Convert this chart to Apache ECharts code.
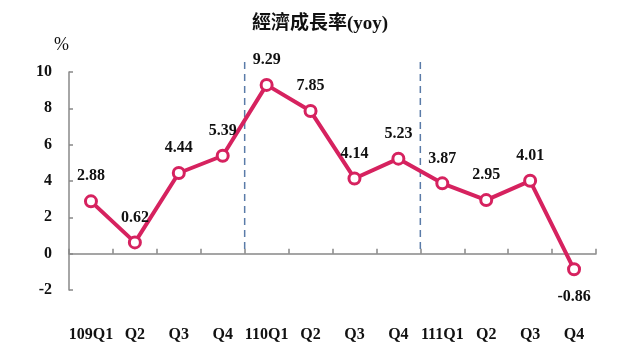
<!DOCTYPE html>
<html>
<head>
<meta charset="utf-8">
<script src="https://cdn.jsdelivr.net/npm/echarts@6/dist/echarts.min.js"></script>
<style>html,body{margin:0;padding:0;background:#fff;}#c{width:640px;height:360px;}</style>
</head>
<body>
<div id="c"></div>
<script>
var titleText = '經濟成長率(yoy)';
var unitName = '%';
var categories = ['109Q1','Q2','Q3','Q4','110Q1','Q2','Q3','Q4','111Q1','Q2','Q3','Q4'];
var growth = [2.88, 0.62, 4.44, 5.39, 9.29, 7.85, 4.14, 5.23, 3.87, 2.95, 4.01, -0.86];
// dividers drawn on the right edge of these categories (after Q4 of 109 and 110)
var dividerAfter = [3, 7];
var yMin = -2, yMax = 10, yStep = 2;
var dividerTop = 10.55;

var serif = '"Liberation Serif", "Times New Roman", "Noto Sans CJK TC", serif';
var lineColor = '#d6225f';

var chart = echarts.init(document.getElementById('c'));
chart.setOption({
  animation: false,
  backgroundColor: '#fff',
  title: {
    text: titleText, left: 'center', top: 10,
    textStyle: { fontFamily: serif, fontSize: 19, fontWeight: 'bold', color: '#111' }
  },
  grid: { left: 69, right: 44, top: 72, bottom: 70, containLabel: false, outerBoundsMode: 'none' },
  xAxis: {
    type: 'category', data: categories, boundaryGap: true,
    axisLine: { onZero: true, lineStyle: { color: '#888', width: 1.5 } },
    axisTick: { show: true, inside: true, length: 5, interval: 0, lineStyle: { color: '#888', width: 1.5 } },
    axisLabel: { show: true, margin: 37, interval: 0, fontFamily: serif, fontSize: 16, fontWeight: 'bold', color: '#111' },
    splitLine: { show: false }
  },
  yAxis: {
    type: 'value', min: yMin, max: yMax, interval: yStep,
    name: unitName, nameLocation: 'end', nameGap: 18,
    nameTextStyle: { fontFamily: serif, fontSize: 18, color: '#111', align: 'right' },
    axisLine: { show: true, onZero: false, lineStyle: { color: '#888', width: 1.5 } },
    axisTick: { show: true, inside: true, length: 4, lineStyle: { color: '#888', width: 1.5 } },
    axisLabel: { margin: 17, fontFamily: serif, fontSize: 16, fontWeight: 'bold', color: '#111' },
    splitLine: { show: false }
  },
  series: [{
    type: 'custom',
    silent: true,
    clip: false,
    z: 1,
    data: dividerAfter.map(function (i) { return [i, dividerTop]; }),
    renderItem: function (params, api) {
      var idx = api.value(0);
      var band = api.size([1, 0])[0];
      var top = api.coord([idx, api.value(1)]);
      var bot = api.coord([idx, 0]);
      var x = top[0] + band / 2;
      return {
        type: 'line',
        shape: { x1: x, y1: top[1], x2: x, y2: bot[1] },
        style: { stroke: '#5a7ba8', lineWidth: 1.5, lineDash: [7, 5] }
      };
    }
  }, {
    type: 'line',
    data: growth.map(function (v) {
      return v < 0 ? { value: v, label: { position: 'bottom', distance: 13 } } : v;
    }),
    z: 5,
    lineStyle: { color: lineColor, width: 4 },
    symbol: 'circle', symbolSize: 11,
    itemStyle: { color: '#fff', borderColor: lineColor, borderWidth: 3 },
    label: {
      show: true,
      position: 'top',
      distance: 10,
      fontFamily: serif, fontSize: 16, fontWeight: 'bold', color: '#111',
      formatter: function (p) { return p.value.toFixed(2); }
    }
  }]
});
</script>
</body>
</html>
